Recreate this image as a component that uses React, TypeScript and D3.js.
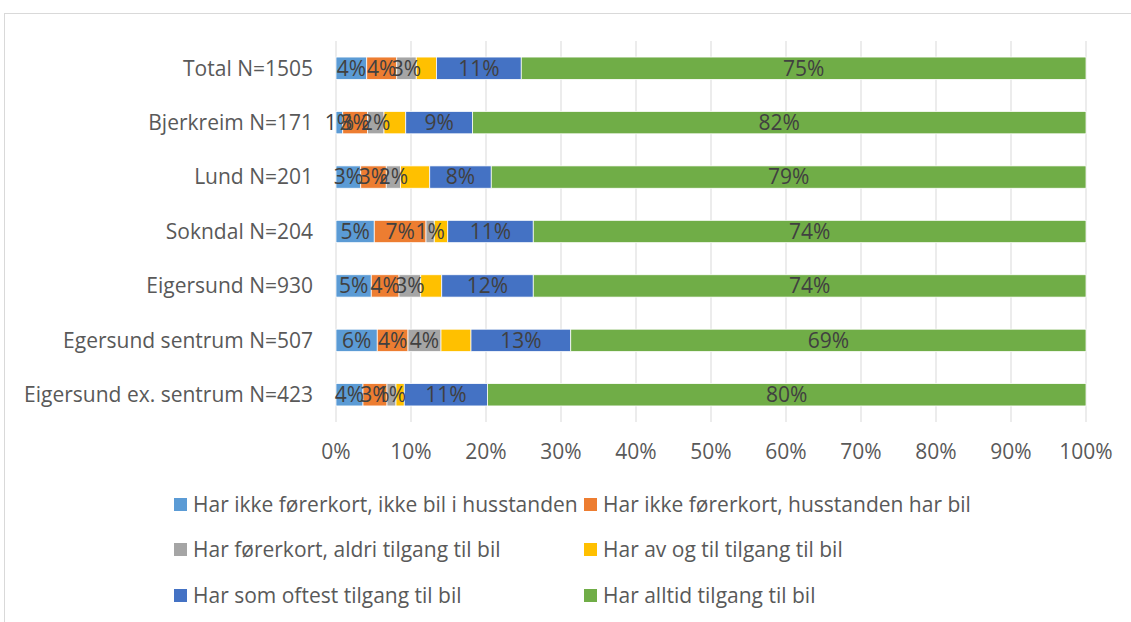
import React from "react";
import * as d3 from "d3";

const categories = [
  "Total N=1505",
  "Bjerkreim N=171",
  "Lund N=201",
  "Sokndal N=204",
  "Eigersund N=930",
  "Egersund sentrum N=507",
  "Eigersund ex. sentrum N=423",
];

const seriesNames = [
  "Har ikke førerkort, ikke bil i husstanden",
  "Har ikke førerkort, husstanden har bil",
  "Har førerkort, aldri tilgang til bil",
  "Har av og til tilgang til bil",
  "Har som oftest tilgang til bil",
  "Har alltid tilgang til bil",
];

const seriesColors = ["#5B9BD5", "#ED7D31", "#A5A5A5", "#FFC000", "#4472C4", "#70AD47"];
const showLabels = [true, true, true, false, true, true];

// values in percent, one array per series, in category order
const noLicenceNoCar = [4.1, 0.9, 3.3, 5.1, 4.7, 5.5, 3.6];
const noLicenceHouseholdCar = [4.0, 3.3, 3.4, 6.9, 3.7, 4.1, 3.2];
const licenceNeverCar = [2.6, 2.2, 1.9, 1.1, 2.9, 4.4, 1.2];
const sometimesCar = [2.7, 2.9, 3.9, 1.8, 2.8, 4.0, 1.1];
const mostlyCar = [11.3, 8.9, 8.2, 11.4, 12.2, 13.3, 11.1];
const alwaysCar = [75.3, 81.8, 79.3, 73.7, 73.7, 68.7, 79.8];

const seriesValues = [noLicenceNoCar, noLicenceHouseholdCar, licenceNeverCar, sometimesCar, mostlyCar, alwaysCar];

const xTicks = [0, 10, 20, 30, 40, 50, 60, 70, 80, 90, 100];

const FONT = "'Open Sans', 'Noto Sans', sans-serif";
const FS = 21;

export default function App() {
  const W = 1131;
  const H = 622;
  const left = 336;
  const right = 1086;
  const top = 41;
  const bottom = 422;

  const x = d3.scaleLinear().domain([0, 100]).range([left, right]);
  const y = d3.scaleBand().domain(categories).range([top, bottom]).paddingInner(0.59).paddingOuter(0.295);
  const fmt = (v: number) => `${Math.round(v)}%`;

  const stacked = categories.map((c, ci) => {
    let acc = 0;
    return seriesValues.map((vals, si) => {
      const v = vals[ci];
      const s = { x0: acc, x1: acc + v, v, si };
      acc += v;
      return s;
    });
  });

  const legendRows = [505, 550, 596];
  const legendCols = [174, 584];

  return (
    <div style={{ position: "fixed", left: 0, top: 0 }}>
      <svg width={W} height={H} style={{ display: "block", background: "#fff" }} fontFamily={FONT}>
        <rect x={4.5} y={13.5} width={W + 10} height={H + 10} fill="#fff" stroke="#d9d9d9" strokeWidth={1} />
        {xTicks.map((t) => (
          <line key={t} x1={x(t)} x2={x(t)} y1={top} y2={bottom} stroke="#d9d9d9" strokeWidth={1} />
        ))}
        {categories.map((c, ci) => (
          <g key={c}>
            {stacked[ci].map((s) => (
              <rect
                key={s.si}
                x={x(s.x0)}
                y={y(c)!}
                width={x(s.x1) - x(s.x0)}
                height={y.bandwidth()}
                fill={seriesColors[s.si]}
                stroke="#fff"
                strokeWidth={0.75}
              />
            ))}
            {stacked[ci].map((s) =>
              showLabels[s.si] ? (
                <text
                  key={"l" + s.si}
                  x={(x(s.x0) + x(s.x1)) / 2}
                  y={y(c)! + y.bandwidth() / 2}
                  dy="0.35em"
                  textAnchor="middle"
                  fontSize={FS}
                  fill="#404040"
                >
                  {fmt(s.v)}
                </text>
              ) : null
            )}
            <text x={313} y={y(c)! + y.bandwidth() / 2} dy="0.35em" textAnchor="end" fontSize={FS} fill="#595959">
              {c}
            </text>
          </g>
        ))}
        {xTicks.map((t) => (
          <text key={"t" + t} x={x(t)} y={452} dy="0.35em" textAnchor="middle" fontSize={FS} fill="#595959">
            {t}%
          </text>
        ))}
        {seriesNames.map((n, i) => {
          const row = Math.floor(i / 2);
          const col = i % 2;
          const ly = legendRows[row];
          const lx = legendCols[col];
          return (
            <g key={n}>
              <rect x={lx} y={ly - 7} width={13} height={13} fill={seriesColors[i]} />
              <text x={lx + 19} y={ly} dy="0.35em" fontSize={FS} fill="#595959">
                {n}
              </text>
            </g>
          );
        })}
      </svg>
    </div>
  );
}
